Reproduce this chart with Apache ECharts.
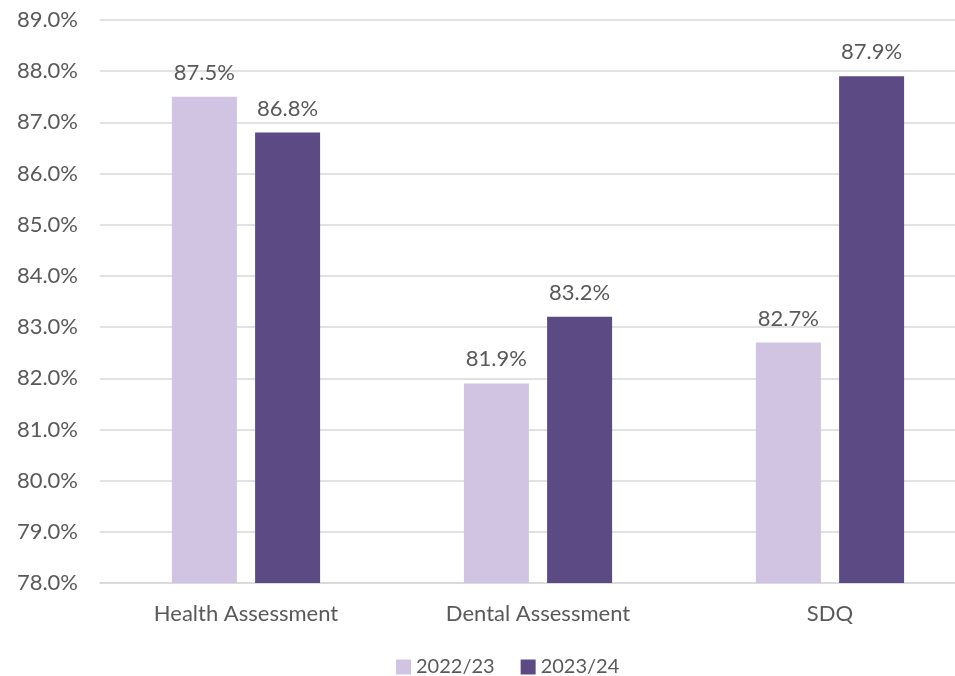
<!DOCTYPE html>
<html>
<head>
<meta charset="utf-8">
<script src="https://cdn.jsdelivr.net/npm/echarts@6/dist/echarts.min.js"></script>
<style>
  html, body { margin: 0; padding: 0; background: #fff; }
  #chart { width: 955px; height: 676px; }
</style>
</head>
<body>
<div id="chart"></div>
<script>
const categories = ['Health Assessment', 'Dental Assessment', 'SDQ'];
const seriesNames = ['2022/23', '2023/24'];
const values2022 = [87.5, 81.9, 82.7];
const values2023 = [86.8, 83.2, 87.9];

const textColor = '#595959';
const fontFamily = 'Lato, "Open Sans", sans-serif';
const fontSize = 22;

const chart = echarts.init(document.getElementById('chart'), null, { renderer: 'canvas' });

const labelStyle = {
	show: true,
	position: 'top',
	distance: 13,
	color: textColor,
	fontFamily: fontFamily,
	fontSize: fontSize,
	formatter: (p) => p.value.toFixed(1) + '%'
};

chart.setOption({
	animation: false,
	textStyle: { fontFamily: fontFamily, color: textColor },
	grid: {
		left: 100,
		width: 876,
		top: 20,
		bottom: 93,
		outerBoundsMode: 'none',
		containLabel: false
	},
	legend: {
		top: 657,
		left: 396,
		padding: 0,
		itemWidth: 15,
		itemHeight: 15,
		itemGap: 26,
		icon: 'rect',
		textStyle: { color: textColor, fontSize: 20, fontFamily: fontFamily },
		data: seriesNames
	},
	xAxis: {
		type: 'category',
		data: categories,
		axisTick: { show: false },
		axisLine: { lineStyle: { color: '#D9D9D9', width: 1.5 } },
		axisLabel: { color: textColor, fontSize: fontSize, margin: 20, fontFamily: fontFamily }
	},
	yAxis: {
		type: 'value',
		min: 78,
		max: 89,
		interval: 1,
		axisLine: { show: false },
		axisTick: { show: false },
		splitLine: { lineStyle: { color: '#D9D9D9', width: 1.5 } },
		axisLabel: {
			color: textColor,
			fontSize: fontSize,
			margin: 22,
			fontFamily: fontFamily,
			formatter: (v) => v.toFixed(1) + '%'
		}
	},
	series: [
		{
			name: seriesNames[0],
			type: 'bar',
			barWidth: 65,
			barGap: '28%',
			itemStyle: { color: '#D1C4E3' },
			label: labelStyle,
			data: values2022
		},
		{
			name: seriesNames[1],
			type: 'bar',
			barWidth: 65,
			barGap: '28%',
			itemStyle: { color: '#5C4A84' },
			label: labelStyle,
			data: values2023
		}
	]
});
</script>
</body>
</html>
